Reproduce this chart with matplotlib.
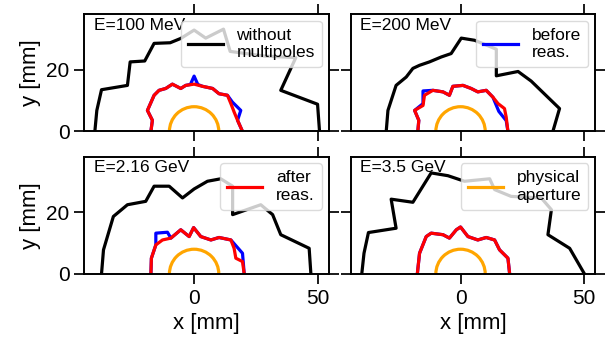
import matplotlib
matplotlib.use('Agg')
import matplotlib.pyplot as plt
from matplotlib.patches import Arc

plt.rcParams['font.family'] = ['Liberation Sans', 'DejaVu Sans']

# energies shown in the four panels
titles = ['E=100 MeV', 'E=200 MeV', 'E=2.16 GeV', 'E=3.5 GeV']

# dynamic aperture without multipoles (black)
black_x = [
    [-40.2, -39.4, -37.5, -27, -25.9, -20, -16.2, -9.7, -5.4, 0, 4.7, 11.9, 14.6, 28.4, 41.2, 35.1, 50, 50.8],
    [-30.1, -29.4, -26.1, -22, -19.3, -16.6, -12.6, -7.8, -3.8, 0.3, 5.7, 9.7, 14.5, 14.5, 23.3, 28.6, 40.1, 37.4],
    [-37.5, -36.7, -32.7, -27, -19.6, -16.2, -10.1, -4.7, 0, 5.4, 10.8, 15.6, 15.6, 27, 31.8, 35.1, 46.6, 47.3],
    [-40, -39.1, -37.3, -26.1, -28.1, -19.3, -11.9, -5.1, 1.6, 11.8, 13.8, 20.5, 32.7, 36.8, 35.4, 44.2, 50.2],
]
black_y = [
    [0, 6.8, 13.5, 14.9, 22.5, 22.8, 28.5, 28.7, 30.1, 32.8, 30.2, 33.1, 25.9, 24.4, 23.9, 13.3, 8.8, 0],
    [0, 6.8, 14.9, 17.6, 20.4, 21.4, 22.5, 24.1, 25.2, 30.2, 29.5, 28.2, 26.6, 18, 19.4, 16.3, 7.4, 0],
    [0, 7.8, 18.6, 22.4, 23.5, 28.4, 28.4, 24.6, 27.5, 30, 30.8, 28.4, 19.2, 22.4, 19.2, 12.7, 8.3, 0],
    [0, 6.7, 13.4, 14.8, 24.2, 23.2, 32.7, 31.8, 30, 30.8, 27.3, 25.1, 24.6, 20.8, 12.7, 8.3, 0],
]

# after reassignment (red)
red_x = [
    [-17.5, -16.9, -18.9, -16.2, -14.2, -11.5, -8.8, -5.4, -3.4, 0, 3.4, 7.5, 10.1, 13.5, 14.9, 16.2, 17.6, 19.6],
    [-17.3, -16.9, -18.6, -15.2, -14.6, -11.2, -7.1, -4.5, -3.1, 1, 4.3, 7, 10.4, 13.1, 15.2, 17.8, 18.5, 19.2],
    [-17.5, -17.3, -15.5, -12.8, -9.4, -5.4, -2, -0.2, 2.7, 6.8, 10.1, 14.9, 16.2, 16.9, 19.6, 20.3],
    [-17.5, -16.6, -13.9, -11.9, -7.1, -4.5, -1.7, 0, 3, 7, 10.4, 13.8, 15.8, 19.2, 19.9],
]
red_y = [
    [0, 3.6, 6.8, 11.7, 13.3, 13.9, 15.3, 13.9, 14.9, 15.3, 14.6, 13.9, 12.2, 11.7, 9, 6.3, 3.6, 0],
    [0, 3.6, 6.8, 8.4, 11.7, 13.3, 12.8, 11.7, 14.6, 14.9, 13.9, 12.8, 13.3, 11.1, 9, 7.4, 4.6, 0],
    [0, 5.1, 9.4, 11, 11.6, 14.3, 12.1, 15, 12.1, 11, 11.8, 11, 8.3, 5.1, 4, 0],
    [0, 6.7, 12.1, 13.2, 12.7, 11.6, 14.3, 15.2, 12.1, 11, 11.8, 11, 7.8, 5.1, 0],
]

# before reassignment (blue)
blue_x = [
    [-17.5, -16.9, -18.9, -16.2, -14.2, -11.5, -8.8, -5.4, -3.4, -1.5, 0, 1.5, 3.4, 7.5, 10.1, 13.5, 15.5, 18.9, 17.6, 19.6],
    [-17.3, -16.9, -18.6, -15.2, -15.2, -11.2, -7.1, -4.5, -3.1, 1, 4.3, 7, 10.4, 13.1, 15.5, 18.5, 19.2],
    [-17.5, -17.3, -15.5, -15.5, -10.8, -9.4, -5.4, -2, -0.2, 2.7, 6.8, 10.1, 14.9, 19.6, 20.3],
    [-17.5, -16.6, -13.9, -11.9, -7.1, -4.5, -1.7, 0, 3, 7, 10.4, 13.8, 15.8, 19.2, 19.9],
]
blue_y = [
    [0, 3.6, 6.8, 11.7, 13.3, 13.9, 15.3, 13.9, 14.9, 15.2, 17.9, 15.2, 14.6, 13.9, 12.2, 11.7, 9.5, 6.8, 3.6, 0],
    [0, 3.6, 6.8, 9, 13.1, 13.3, 12.8, 11.7, 14.6, 14.9, 13.9, 12.8, 13.3, 11.1, 6.5, 3.5, 0],
    [0, 5.1, 9.4, 13.2, 13.5, 11.6, 14.3, 12.1, 15, 12.1, 11, 11.8, 11, 6.7, 0],
    [0, 6.7, 12.1, 13.2, 12.7, 11.6, 14.3, 15.2, 12.1, 11, 11.8, 11, 7.8, 5.1, 0],
]

# physical aperture (half axes in mm)
aperture_a = 10
aperture_b = 8

legend_labels = ['without\nmultipoles', 'before\nreas.', 'after\nreas.', 'physical\naperture']
legend_colors = ['black', 'blue', 'red', 'orange']

fig, axes = plt.subplots(2, 2, figsize=(6.06, 3.42), dpi=100, sharex=True, sharey=True)
fig.subplots_adjust(left=0.139, right=0.982, top=0.959, bottom=0.199, wspace=0.09, hspace=0.214)

for i, ax in enumerate(axes.flat):
    ax.plot(black_x[i], black_y[i], color='black', lw=2.3)
    ax.plot(blue_x[i], blue_y[i], color='blue', lw=2.3)
    ax.plot(red_x[i], red_y[i], color='red', lw=2.3)
    ax.add_patch(Arc((0, 0), 2 * aperture_a, 2 * aperture_b, theta1=0, theta2=180,
                     color='orange', lw=2.3))
    h, = ax.plot([], [], color=legend_colors[i], lw=2.3)
    ax.legend([h], [legend_labels[i]], loc='upper right', fontsize=12.5,
              handlelength=2.0, framealpha=0.8, edgecolor='lightgray',
              borderaxespad=0.4, labelspacing=0.2)
    ax.text(0.04, 0.97, titles[i], transform=ax.transAxes, va='top', ha='left', fontsize=12.5)
    ax.set_xlim(-44.5, 54.5)
    ax.set_ylim(0, 38)
    ax.set_xticks([0, 50])
    ax.set_yticks([0, 20])
    ax.tick_params(direction='out', length=7, width=1.25, top=True, right=True, labelsize=15)
    for s in ax.spines.values():
        s.set_linewidth(1.4)

for ax in axes[:, 0]:
    ax.set_ylabel('y [mm]', fontsize=16)
for ax in axes[1, :]:
    ax.set_xlabel('x [mm]', fontsize=16)

fig.savefig('out.png', dpi=100)
